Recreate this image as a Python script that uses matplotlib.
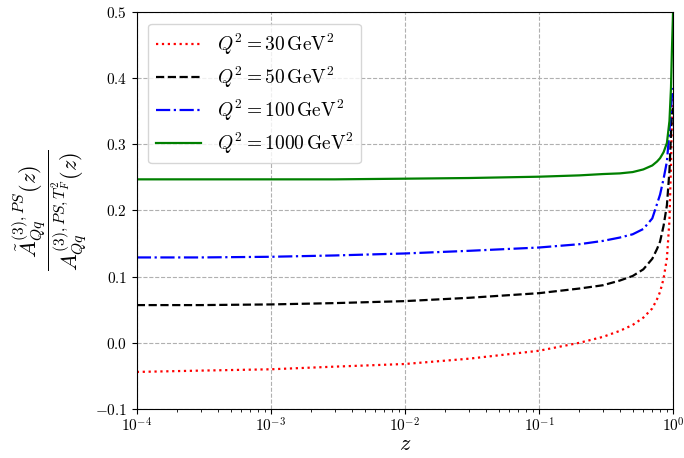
import numpy as np
import matplotlib
matplotlib.use("Agg")
import matplotlib.pyplot as plt

plt.rcParams['font.family'] = 'serif'
plt.rcParams['font.serif'] = ['cmr10']
plt.rcParams['mathtext.fontset'] = 'cm'
plt.rcParams['axes.formatter.use_mathtext'] = True

# values
z = [1e-4, 3e-4, 1e-3, 3e-3, 1e-2, 3e-2, 0.1, 0.2, 0.3, 0.4, 0.5, 0.6, 0.7,
     0.76, 0.8, 0.85, 0.9, 0.94, 0.965, 0.98, 0.99, 1.0]

y_30 = [-0.044, -0.042, -0.040, -0.036, -0.032, -0.024, -0.012, 0.000, 0.009, 0.018, 0.027,
        0.038, 0.052, 0.066, 0.077, 0.097, 0.128, 0.185, 0.270, 0.335, 0.368, 0.385]
y_50 = [0.057, 0.057, 0.058, 0.060, 0.063, 0.068, 0.075, 0.082, 0.087, 0.094, 0.101,
        0.111, 0.127, 0.142, 0.153, 0.177, 0.208, 0.260, 0.315, 0.345, 0.352, 0.355]
y_100 = [0.129, 0.129, 0.130, 0.132, 0.135, 0.139, 0.144, 0.149, 0.154, 0.159, 0.164,
         0.172, 0.188, 0.210, 0.224, 0.248, 0.274, 0.320, 0.352, 0.372, 0.380, 0.385]
y_1000 = [0.247, 0.247, 0.247, 0.247, 0.248, 0.249, 0.251, 0.253, 0.255, 0.256, 0.258,
          0.262, 0.268, 0.274, 0.279, 0.288, 0.302, 0.335, 0.385, 0.440, 0.470, 0.500]

labels = [r'$Q^2 = 30\,\mathrm{GeV}^2$', r'$Q^2 = 50\,\mathrm{GeV}^2$',
          r'$Q^2 = 100\,\mathrm{GeV}^2$', r'$Q^2 = 1000\,\mathrm{GeV}^2$']

fig = plt.figure(figsize=(6.84, 4.58), dpi=100)
ax = fig.add_axes([0.2, 0.107, 0.784, 0.867])

ax.plot(z, y_30, color='red', linestyle=':', linewidth=1.6, label=labels[0])
ax.plot(z, y_50, color='black', linestyle='--', linewidth=1.6, label=labels[1])
ax.plot(z, y_100, color='blue', linestyle='-.', linewidth=1.6, label=labels[2])
ax.plot(z, y_1000, color='green', linestyle='-', linewidth=1.6, label=labels[3])

ax.set_xscale('log')
ax.set_xlim(1e-4, 1)
ax.set_ylim(-0.1, 0.5)
ax.set_yticks([-0.1, 0.0, 0.1, 0.2, 0.3, 0.4, 0.5])
ax.grid(True, linestyle='--', color='#b0b0b0', linewidth=0.8)
ax.tick_params(labelsize=11)
ax.tick_params(axis='x', pad=2)

ax.set_xlabel(r'$z$', fontsize=16, labelpad=0)
ax.set_ylabel(r'$\dfrac{\tilde{A}_{Qq}^{(3),PS}(z)}{A_{Qq}^{(3),PS,T_F^2}(z)}$', fontsize=16)

ax.legend(loc='upper left', fontsize=14, handlelength=2.3, labelspacing=0.4,
          borderaxespad=0.6)

fig.savefig('out.png', dpi=100)
